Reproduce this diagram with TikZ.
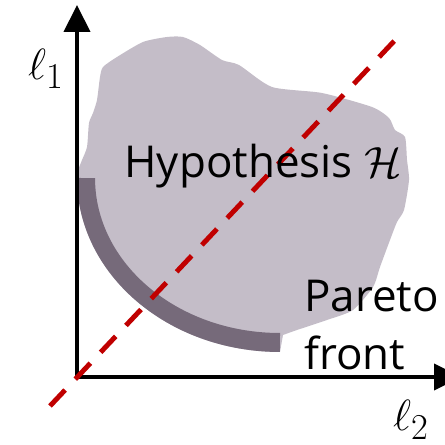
\documentclass[tikz,border=0pt]{standalone}
\usepackage{fontspec}
\setmainfont{Open Sans}
\usepackage{tikz}
\usetikzlibrary{arrows.meta}
\definecolor{HypLilac}{HTML}{C4BDC8}
\definecolor{FrontPlum}{HTML}{766A7A}
\definecolor{DiagRed}{HTML}{C00000}
\tikzset{
    % Axis style
    axisarrow/.style={
        {Triangle[length=0.54cm,width=0.52cm]}-{Triangle[length=0.54cm,width=0.52cm]},
        line width=2.3pt,
        black
    },
    % Region styles
    hypregion/.style={
        fill=HypLilac,
        draw=none
    },
    frontband/.style={
        fill=FrontPlum,
        draw=none
    },
    % Dashed diagonal
    diagline/.style={
        DiagRed,
        line width=2.8pt,
        dash pattern=on 12.5pt off 8.5pt
    },
    % Text styles
    axislabel/.style={
        inner sep=0pt,
        font=\fontsize{32}{36}\selectfont
    },
    textlabel/.style={
        inner sep=0pt,
        align=left,
        font=\fontsize{25}{33}\selectfont
    }
}

\begin{document}
\begin{tikzpicture}[x=0.02cm, y=0.02cm]
    \useasboundingbox (-77,-68) rectangle (367,377);

    % Hypothesis region
    \fill[hypregion] (0,199) -- plot[smooth, tension=0.4] coordinates {
        (1,207) (5,217) (10,230) (12,254) (16,264) (20,277) (23,300) (26,310)
        (40,320) (66,335) (90,340) (106,340) (123,332) (145,317) (162,312)
        (195,290) (245,284) (295,270) (312,259) (318,247) (328,240) (330,217)
        (332,197) (327,167) (320,155) (313,137) (303,110) (296,90) (276,67)
        (250,57) (220,47) (206,42)}
        -- (203,25) arc[start angle=270, end angle=180, x radius=4.06cm, y radius=3.48cm] -- cycle;

    % Pareto front band
    \fill[frontband] (0,199) arc[start angle=180, end angle=270, x radius=4.06cm, y radius=3.48cm]
        -- (203,44) arc[start angle=270, end angle=180, x radius=3.7cm, y radius=3.1cm] -- cycle;

    % Axes
    \coordinate (origin) at (0,0);
    \coordinate (ytip) at (0,372);
    \coordinate (xtip) at (384,0);
    \draw[axisarrow] (ytip) -- (origin) -- (xtip);

    % Diagonal
    \coordinate (dlow) at (-27,-29);
    \coordinate (dhigh) at (321,340);
    \draw[diagline] (dlow) -- (dhigh);

    % Labels
    \node[axislabel] (lone) at (-31,308) {$\ell_1$};
    \node[axislabel] (ltwo) at (334,-43) {$\ell_2$};
    \node[textlabel, anchor=base] (hyp) at (186,199) {Hypothesis $\mathcal{H}$};
    \node[textlabel, anchor=north west] (pareto) at (227,97) {Pareto\\front};
\end{tikzpicture}
\end{document}
